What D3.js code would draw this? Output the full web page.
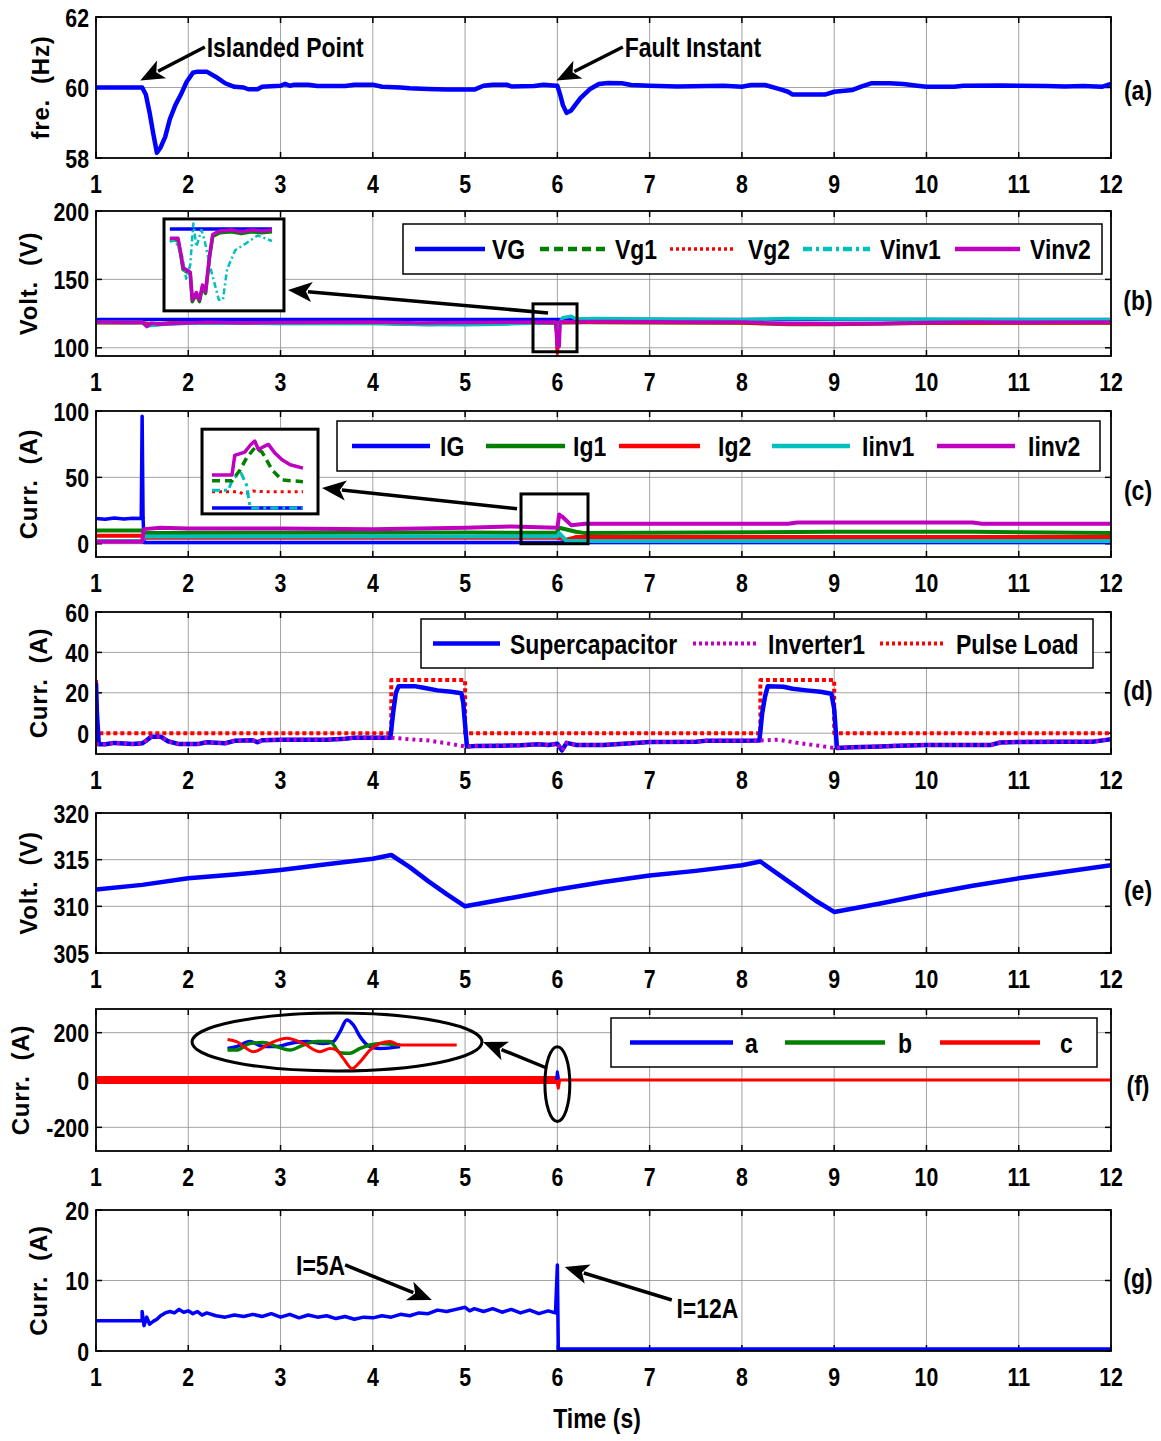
<!DOCTYPE html>
<html>
<head>
<meta charset="utf-8">
<script src="https://cdnjs.cloudflare.com/ajax/libs/d3/7.8.5/d3.min.js"></script>
<style>
body{margin:0;padding:0;background:#fff;}
svg text{font-family:"Liberation Sans",Arial,sans-serif;font-weight:bold;fill:#000;}
svg text.ylab{white-space:pre;letter-spacing:0.8px;}
</style>
</head>
<body>
<div id="chart"></div>
<script>
// ---- data ----
var xTicks = [1,2,3,4,5,6,7,8,9,10,11,12];
var panelTags = ["(a)","(b)","(c)","(d)","(e)","(f)","(g)"];
var yTitles = ["fre.  (Hz)","Volt.  (V)","Curr.  (A)","Curr.  (A)","Volt.  (V)","Curr.  (A)","Curr.  (A)"];
var yTicksA = [58,60,62], yTicksB = [100,150,200], yTicksC = [0,50,100], yTicksD = [0,20,40,60],
    yTicksE = [305,310,315,320], yTicksF = [-200,0,200], yTicksG = [0,10,20];

// (a) frequency
var freq = [[1,60],[1.5,60],[1.54,59.8],[1.58,59.3],[1.62,58.7],[1.66,58.15],[1.7,58.3],[1.75,58.6],[1.8,59.1],[1.86,59.5],[1.92,59.8],[1.98,60.15],[2.05,60.42],[2.1,60.45],[2.2,60.45],[2.3,60.3],[2.4,60.12],[2.5,60.02],[2.6,60.0],[2.65,59.95],[2.75,59.95],[2.8,60.02],[3.0,60.05],[3.05,60.1],[3.1,60.05],[3.15,60.08],[3.3,60.08],[3.4,60.04],[3.7,60.04],[3.8,60.08],[4.0,60.08],[4.1,60.02],[4.3,60.0],[4.4,59.98],[4.6,59.96],[4.8,59.94],[5.1,59.94],[5.2,60.05],[5.3,60.08],[5.45,60.08],[5.5,60.03],[5.75,60.04],[5.85,60.08],[5.95,60.06],[6.0,60.05],[6.03,59.8],[6.06,59.5],[6.1,59.28],[6.15,59.35],[6.25,59.7],[6.35,59.95],[6.45,60.1],[6.55,60.13],[6.7,60.12],[6.8,60.07],[7.0,60.05],[7.3,60.03],[7.8,60.05],[8.0,60.02],[8.1,60.07],[8.25,60.07],[8.4,59.96],[8.5,59.88],[8.55,59.8],[8.9,59.8],[9.0,59.88],[9.2,59.93],[9.3,60.03],[9.4,60.12],[9.6,60.12],[9.75,60.1],[9.9,60.05],[10.0,60.02],[10.3,60.02],[10.4,60.05],[10.8,60.06],[11.0,60.05],[11.3,60.04],[11.5,60.03],[11.7,60.04],[11.9,60.02],[12,60.1]];

// (b) voltages
var namesB = ["VG","Vg1","Vg2","Vinv1","Vinv2"];
var vG = [[1,120.6],[12,120.6]];
var vg1 = [[1,118.3],[1.5,118.3],[1.6,116.5],[1.8,118],[2.5,118],[3,117.8],[4,118],[4.6,117],[5,117.5],[5.5,118],[5.99,118.2],[6.0,99],[6.02,118.3],[6.3,118.5],[8,118.2],[8.5,117],[9,117],[9.5,117.5],[10,118],[12,118.2]];
var vg2 = [[1,118.4],[1.5,118.4],[1.6,117],[1.8,118.2],[2.5,118.1],[3,118],[4,118.2],[4.6,117.4],[5,117.6],[5.5,118],[5.99,118.3],[6.0,96],[6.02,118.4],[6.3,118.6],[8,118.3],[8.5,117.2],[9,117.2],[9.5,117.6],[10,118.1],[12,118.3]];
var vinv1 = [[1,118.6],[1.5,118.6],[1.55,116],[1.7,117],[2,118],[3,118],[4,118],[4.5,117],[5,116.8],[5.5,117.5],[5.98,118.5],[6.01,104],[6.03,119],[6.06,122],[6.15,123],[6.2,121],[6.4,121.5],[7,121],[8,120.5],[8.5,121.5],[9,121],[10,120.8],[11,120.5],[12,120.5]];
var vinv2 = [[1,118.8],[1.4,118.5],[1.5,118.8],[1.55,115.5],[1.6,118],[1.7,117.2],[1.9,118],[2.2,118.6],[2.6,118.2],[3,118.4],[3.5,118.6],[4,118.8],[4.5,118.2],[5,118.4],[5.5,118.6],[5.98,118.8],[6.0,101],[6.02,101],[6.03,119],[6.5,119.2],[7,119],[7.5,118.8],[8,118.8],[8.5,117.8],[9,117.5],[9.5,117.8],[10,118.5],[10.5,118.8],[11,118.6],[12,118.8]];
// (b) inset, local units 0..100
var insB_vG = [[0,89],[100,89]];
var insB_vg = [[0,77],[8,77],[11,59],[13,45],[20,40],[22,10],[26,18],[29,10],[32,26],[35,19],[39,59],[42,81],[49,85],[60,86],[70,84],[80,86],[90,85],[100,86]];
var insB_vinv2 = [[0,79],[8,79],[11,61],[13,47],[20,42],[22,12],[26,20],[29,12],[32,28],[35,21],[39,61],[42,83],[49,87],[60,88],[70,86],[80,88],[90,87],[100,88]];
var insB_vinv1 = [[0,75],[5,77],[12,60],[16,35],[20,50],[23,95],[26,70],[31,88],[34,77],[39,50],[48,12],[52,12],[56,45],[64,66],[74,73],[86,82],[100,76]];

// (c) currents
var namesC = ["IG","Ig1","Ig2","Iinv1","Iinv2"];
var iG = [[1,19],[1.1,18.5],[1.2,19.3],[1.3,18.6],[1.4,19.2],[1.49,19],[1.5,96],[1.51,20],[1.52,1],[12,1]];
var ig1 = [[1,10],[1.5,10],[1.52,8],[3,8.3],[5,8.5],[5.99,8.2],[6.02,12],[6.2,9],[6.3,8],[9,9],[10.5,9],[12,8]];
var ig2 = [[1,6],[1.5,6],[1.52,4.5],[6,4.5],[6.1,3],[6.2,5],[12,5]];
var iinv1 = [[1,2],[1.5,2],[1.52,5.5],[6,5.5],[6.02,8],[6.1,2],[12,2]];
var iinv2 = [[1,1.5],[1.5,1.5],[1.52,11],[1.7,12],[2,11.5],[3,11.5],[4,11],[4.5,11.5],[5,12],[5.5,13],[6,12],[6.02,22],[6.06,20],[6.15,14],[6.3,15],[8.5,15],[8.6,16],[10.5,16],[10.6,15],[12,15]];
var insC_iG = [[0,7],[100,7]];
var insC_iinv2 = [[0,46],[22,46],[25,69],[36,73],[42,81],[47,86],[51,76],[56,79],[62,82],[69,72],[77,64],[86,58],[100,54]];
var insC_ig1 = [[0,39],[22,39],[31,52],[38,66],[47,78],[55,73],[66,52],[77,40],[100,38]];
var insC_ig2 = [[0,26],[30,26],[35,23],[45,27],[60,26],[100,26]];
var insC_iinv1 = [[0,28],[18,28],[23,42],[32,48],[38,34],[42,7],[100,7]];

// (d) supercapacitor / inverter / pulse load currents
var namesD = ["Supercapacitor","Inverter1","Pulse Load"];
var iSc = [[1,25],[1.01,10],[1.03,-5.5],[1.1,-5.5],[1.2,-4.8],[1.4,-5.4],[1.5,-5],[1.55,-3.5],[1.6,-1.7],[1.7,-1.7],[1.78,-4],[1.9,-5.4],[2.1,-5.4],[2.2,-4.5],[2.4,-5],[2.5,-3.8],[2.7,-3.5],[2.75,-4.5],[2.8,-3.5],[3.0,-3.3],[3.5,-3.3],[3.7,-2.8],[3.8,-2.2],[4.0,-2.2],[4.19,-2.2],[4.22,10],[4.25,20],[4.28,23.3],[4.45,23.3],[4.55,22.5],[4.7,21.2],[4.85,20.5],[4.96,19.8],[4.98,15],[5.02,-6.6],[5.1,-6.4],[5.4,-6.2],[5.6,-6],[5.8,-5.5],[5.9,-5.8],[6.0,-5.2],[6.05,-8.5],[6.1,-4.8],[6.2,-5.8],[6.5,-5.8],[6.8,-5],[7.0,-4.4],[7.5,-4.2],[7.6,-3.8],[8.0,-3.8],[8.19,-3.6],[8.22,10],[8.25,18],[8.28,23.3],[8.45,23],[8.55,22],[8.7,21.2],[8.85,20.5],[8.97,19.5],[9.0,12],[9.03,-7.3],[9.2,-7],[9.5,-6.6],[9.7,-6.2],[10,-5.8],[10.3,-5.8],[10.7,-5.8],[10.8,-4.6],[11,-4.3],[11.5,-4.2],[11.8,-4.2],[11.95,-3.3],[12,-3]];
var iInv1 = [[1,-5.5],[1.1,-5.5],[1.2,-4.8],[1.4,-5.4],[1.5,-5],[1.55,-3.5],[1.6,-1.7],[1.7,-1.7],[1.78,-4],[1.9,-5.4],[2.1,-5.4],[2.2,-4.5],[2.4,-5],[2.5,-3.8],[2.7,-3.5],[2.75,-4.5],[2.8,-3.5],[3.0,-3.3],[3.5,-3.3],[3.7,-2.8],[3.8,-2.2],[4.0,-2.2],[4.2,-2.2],[4.4,-3],[4.6,-3.6],[4.8,-5],[5.0,-6.6],[5.1,-6.4],[5.4,-6.2],[5.6,-6],[5.8,-5.5],[5.9,-5.8],[6.0,-5.2],[6.05,-8.5],[6.1,-4.8],[6.2,-5.8],[6.5,-5.8],[6.8,-5],[7.0,-4.4],[7.5,-4.2],[7.6,-3.8],[8.0,-3.8],[8.2,-3.6],[8.4,-3.2],[8.6,-4.8],[8.8,-6],[9.0,-7.3],[9.2,-7],[9.5,-6.6],[9.7,-6.2],[10,-5.8],[10.7,-5.8],[10.8,-4.6],[11,-4.3],[11.8,-4.2],[12,-3]];
var iPulse = [[1,26.3],[1.005,0],[4.2,0],[4.2,26.3],[5.0,26.3],[5.0,0],[8.2,0],[8.2,26.3],[9.0,26.3],[9.0,0],[12,0]];

// (e) supercapacitor voltage
var vSc = [[1,311.8],[1.5,312.3],[2,313.0],[2.5,313.4],[3,313.9],[3.5,314.5],[4,315.1],[4.2,315.5],[4.4,314.2],[4.6,312.7],[4.8,311.3],[5.0,310.0],[5.5,310.9],[6,311.8],[6.5,312.6],[7,313.3],[7.5,313.8],[8,314.4],[8.2,314.8],[8.4,313.4],[8.6,312.0],[8.8,310.6],[9.0,309.4],[9.5,310.3],[10,311.3],[10.5,312.2],[11,313.0],[11.5,313.7],[12,314.4]];

// (f) three-phase currents
var namesF = ["a","b","c"];
var fBand = [[1,17],[5.99,17]];
var fA = [[5.99,0],[6.0,35],[6.015,0]];
var fC = [[5.995,0],[6.01,-35],[6.025,0],[12,0]];
var insF_a = [[0.4,-0.13],[4.3,-0.06],[10.1,0.13],[15.9,-0.06],[21.7,-0.06],[27.5,0.06],[34.8,0.13],[42,0.06],[46.4,0.13],[49.3,0.5],[52.2,0.94],[55.1,0.75],[58,0.31],[62.3,-0.06],[66.7,-0.13],[75.4,-0.06]];
var insF_b = [[0.4,-0.19],[4.3,-0.19],[10.1,0.06],[15.9,0.09],[21.7,-0.06],[27.5,-0.19],[33.3,0],[39.1,0.13],[44.9,0.13],[49.3,-0.29],[53.6,-0.31],[58,-0.13],[62.3,0],[66.7,0.06],[75.4,0]];
var insF_c = [[0.4,0.21],[4.3,0.13],[11.6,-0.25],[18.8,0.06],[26.1,0.25],[33.3,0.06],[40.6,-0.25],[44.9,-0.13],[47.8,-0.19],[50.7,-0.5],[54.6,-0.88],[58,-0.63],[62.3,-0.19],[66.7,0.06],[71,0.13],[75.4,0],[100,0]];

// (g) fault current
var iFault = [[1,4.3],[1.5,4.3],[1.5,5.6],[1.52,3.6],[1.55,4.8],[1.58,3.8],[1.62,4.2],[1.66,4.5],[1.7,5.0],[1.75,5.4],[1.8,5.6],[1.85,5.4],[1.9,5.9],[1.95,5.5],[2.0,5.7],[2.05,5.3],[2.1,5.6],[2.15,5.1],[2.2,5.4],[2.3,5.0],[2.4,4.8],[2.5,5.1],[2.6,4.9],[2.7,5.2],[2.8,4.9],[2.9,5.3],[3.0,4.8],[3.1,5.2],[3.2,4.7],[3.3,5.1],[3.4,4.8],[3.5,5.0],[3.6,4.6],[3.7,4.9],[3.8,4.5],[3.9,4.8],[4.0,4.7],[4.1,5.0],[4.2,4.8],[4.3,5.2],[4.4,5.0],[4.5,5.4],[4.6,5.3],[4.7,5.8],[4.8,5.6],[4.9,5.9],[5.0,6.2],[5.05,5.7],[5.1,6.0],[5.2,5.6],[5.3,6.0],[5.4,5.5],[5.5,5.9],[5.6,5.4],[5.7,5.8],[5.8,5.3],[5.9,5.7],[5.98,5.4],[6.0,12.2],[6.01,0.3],[12,0.3]];

// ---- layout ----
var W = 1161, H = 1441, X0 = 96, X1 = 1111, NARROW = 0.82;
var panels = [
  {top:17,  bot:158,  dom:[58,62],    ticks:yTicksA, labX:40, tagY:90},
  {top:211, bot:356,  dom:[94,200],   ticks:yTicksB, labX:28, tagY:300},
  {top:411, bot:557,  dom:[-10,100],  ticks:yTicksC, labX:28, tagY:490},
  {top:612, bot:754,  dom:[-10.3,60], ticks:yTicksD, labX:38, tagY:690},
  {top:813, bot:953,  dom:[305,320],  ticks:yTicksE, labX:28, tagY:890},
  {top:1009,bot:1151, dom:[-300,300], ticks:yTicksF, labX:20, tagY:1085},
  {top:1210,bot:1351, dom:[0,20],     ticks:yTicksG, labX:38, tagY:1278}
];
var BLUE="#0000ff", GREEN="#008000", RED="#ff0000", CYAN="#00bfbf", MAG="#bf00bf";

var svg = d3.select("#chart").append("svg").attr("width",W).attr("height",H);
var x = d3.scaleLinear().domain([1,12]).range([X0,X1]);

// bold narrow text, emulated by squeezing Liberation Sans Bold
function ntext(g, tx, ty, s, size, anchor){
    return g.append("text").attr("transform","translate("+tx+","+ty+") scale("+NARROW+",1)")
        .attr("text-anchor",anchor || "start").attr("font-size",size).text(s);
}

function arrow(g, x1, y1, x2, y2){
    var dx = x2-x1, dy = y2-y1, L = Math.sqrt(dx*dx+dy*dy), ux = dx/L, uy = dy/L, hl = 24, hw = 10;
    var bx = x2-ux*hl, by = y2-uy*hl;
    g.append("line").attr("x1",x1).attr("y1",y1).attr("x2",bx+ux*4).attr("y2",by+uy*4)
        .attr("stroke","#000").attr("stroke-width",3.5);
    g.append("path").attr("d","M"+x2+","+y2+"L"+(bx-uy*hw)+","+(by+ux*hw)+"L"+(bx+ux*6)+","+(by+uy*6)+"L"+(bx+uy*hw)+","+(by-ux*hw)+"Z")
        .attr("fill","#000");
}

function series(g, sx, sy, data, color, w, dash, curve){
    var line = d3.line().x(function(d){return sx(d[0]);}).y(function(d){return sy(d[1]);}).curve(curve || d3.curveLinear);
    g.append("path").datum(data).attr("d",line).attr("fill","none").attr("stroke",color)
        .attr("stroke-width",w).attr("stroke-dasharray",dash || null).attr("stroke-linejoin","round");
}

function legend(g, box, items){
    g.append("rect").attr("x",box[0]).attr("y",box[1]).attr("width",box[2]-box[0]).attr("height",box[3]-box[1])
        .attr("fill","#fff").attr("stroke","#000").attr("stroke-width",1.5);
    var cy = (box[1]+box[3])/2;
    items.forEach(function(it){
        g.append("line").attr("x1",it.x1).attr("x2",it.x2).attr("y1",cy).attr("y2",cy)
            .attr("stroke",it.color).attr("stroke-width",it.w || 4.5).attr("stroke-dasharray",it.dash || null);
        ntext(g, it.tx, cy+10, it.label, 28);
    });
}

var ys = panels.map(function(p, i){
    var y = d3.scaleLinear().domain(p.dom).range([p.bot,p.top]);
    var g = svg.append("g");
    // grid
    g.selectAll(".vg").data(xTicks.slice(1,-1)).enter().append("line")
        .attr("x1",x).attr("x2",x).attr("y1",p.top).attr("y2",p.bot)
        .attr("stroke","#8c8c8c").attr("stroke-width",0.8);
    g.selectAll(".hg").data(p.ticks.filter(function(t){return y(t) > p.top+1 && y(t) < p.bot-1;})).enter().append("line")
        .attr("x1",X0).attr("x2",X1).attr("y1",y).attr("y2",y)
        .attr("stroke","#8c8c8c").attr("stroke-width",0.8);
    // tick marks
    xTicks.forEach(function(t){
        g.append("line").attr("x1",x(t)).attr("x2",x(t)).attr("y1",p.bot).attr("y2",p.bot-6).attr("stroke","#000").attr("stroke-width",1.5);
        g.append("line").attr("x1",x(t)).attr("x2",x(t)).attr("y1",p.top).attr("y2",p.top+6).attr("stroke","#000").attr("stroke-width",1.5);
    });
    p.ticks.forEach(function(t){
        g.append("line").attr("x1",X0).attr("x2",X0+6).attr("y1",y(t)).attr("y2",y(t)).attr("stroke","#000").attr("stroke-width",1.5);
        g.append("line").attr("x1",X1).attr("x2",X1-6).attr("y1",y(t)).attr("y2",y(t)).attr("stroke","#000").attr("stroke-width",1.5);
    });
    // tick labels
    g.selectAll(".xl").data(xTicks).enter().append("text")
        .attr("transform",function(d){return "translate("+x(d)+","+(p.bot+35)+") scale("+NARROW+",1)";})
        .attr("text-anchor","middle").attr("font-size",26)
        .text(function(d){return d;});
    g.selectAll(".yl").data(p.ticks).enter().append("text")
        .attr("transform",function(d){return "translate("+(X0-7)+","+(y(d)+9.5)+") scale("+NARROW+",1)";})
        .attr("text-anchor","end").attr("font-size",26)
        .text(function(d){return d;});
    g.append("text").attr("class","ylab").attr("transform","translate("+p.labX+","+((p.top+p.bot)/2)+") rotate(-90)")
        .attr("text-anchor","middle").attr("dy","0.36em").attr("font-size",24).text(yTitles[i]);
    ntext(g, 1138, p.tagY+10, panelTags[i], 28, "middle");
    return y;
});

// clip per panel
panels.forEach(function(p, i){
    svg.append("clipPath").attr("id","clip"+i).append("rect").attr("x",X0).attr("y",p.top).attr("width",X1-X0).attr("height",p.bot-p.top);
    p.c = svg.append("g").attr("clip-path","url(#clip"+i+")");
    p.o = svg.append("g");
});

// (a)
series(panels[0].c, x, ys[0], freq, BLUE, 4.5);
arrow(panels[0].o, x(2.18), ys[0](61.15), x(1.48), ys[0](60.2));
arrow(panels[0].o, x(6.71), ys[0](61.15), x(5.99), ys[0](60.2));
ntext(panels[0].o, x(2.2), ys[0](61.15)+10, "Islanded Point", 28);
ntext(panels[0].o, x(6.73), ys[0](61.15)+10, "Fault Instant", 28);

// (b)
(function(){
    var p = panels[1], y = ys[1];
    series(p.c, x, y, vG, BLUE, 3.5);
    series(p.c, x, y, vg1, GREEN, 3.5);
    series(p.c, x, y, vg2, RED, 3.5);
    series(p.c, x, y, vinv1, CYAN, 3.5);
    series(p.c, x, y, vinv2, MAG, 3.5);
    var o = p.o;
    o.append("rect").attr("x",x(5.736)).attr("y",y(132.1)).attr("width",x(6.213)-x(5.736)).attr("height",y(97.1)-y(132.1))
        .attr("fill","none").attr("stroke","#000").attr("stroke-width",3);
    arrow(o, x(5.899), y(125.5), x(3.081), y(142.3));
    o.append("rect").attr("x",x(1.737)).attr("y",y(194.2)).attr("width",x(3.037)-x(1.737)).attr("height",y(127)-y(194.2))
        .attr("fill","#fff").attr("stroke","#000").attr("stroke-width",3);
    var ix = d3.scaleLinear().domain([0,100]).range([x(1.80),x(2.907)]);
    var iy = d3.scaleLinear().domain([0,100]).range([y(127),y(194.2)]);
    series(o, ix, iy, insB_vG, BLUE, 3.5);
    series(o, ix, iy, insB_vg, GREEN, 3.5);
    series(o, ix, iy, insB_vinv1, CYAN, 2.5, "6,3,2,3");
    series(o, ix, iy, insB_vinv2, MAG, 3.5);
    legend(o, [403,224,1102,274], [
        {x1:415,x2:485,tx:492,label:namesB[0],color:BLUE},
        {x1:540,x2:605,tx:615,label:namesB[1],color:GREEN,dash:"9,5"},
        {x1:670,x2:735,tx:748,label:namesB[2],color:RED,dash:"3,3",w:3.5},
        {x1:803,x2:870,tx:880,label:namesB[3],color:CYAN,dash:"9,4,3,4"},
        {x1:955,x2:1020,tx:1030,label:namesB[4],color:MAG}
    ]);
})();

// (c)
(function(){
    var p = panels[2], y = ys[2];
    series(p.c, x, y, iG, BLUE, 3.5);
    series(p.c, x, y, ig1, GREEN, 4);
    series(p.c, x, y, ig2, RED, 4);
    series(p.c, x, y, iinv1, CYAN, 4);
    series(p.c, x, y, iinv2, MAG, 4);
    var o = p.o;
    o.append("rect").attr("x",x(5.606)).attr("y",y(37.5)).attr("width",x(6.332)-x(5.606)).attr("height",y(0)-y(37.5))
        .attr("fill","none").attr("stroke","#000").attr("stroke-width",3);
    arrow(o, x(5.563), y(26.3), x(3.449), y(42));
    o.append("rect").attr("x",x(2.149)).attr("y",y(86.3)).attr("width",x(3.406)-x(2.149)).attr("height",y(22.5)-y(86.3))
        .attr("fill","#fff").attr("stroke","#000").attr("stroke-width",3);
    var ix = d3.scaleLinear().domain([0,100]).range([x(2.257),x(3.243)]);
    var iy = d3.scaleLinear().domain([0,100]).range([y(22.5),y(86.3)]);
    series(o, ix, iy, insC_iG, BLUE, 3.5);
    series(o, ix, iy, insC_ig2, RED, 3, "3,4");
    series(o, ix, iy, insC_iinv1, CYAN, 3, "8,4,3,4");
    series(o, ix, iy, insC_ig1, GREEN, 3.5, "8,5");
    series(o, ix, iy, insC_iinv2, MAG, 3.5);
    legend(o, [337,421,1100,471], [
        {x1:352,x2:430,tx:440,label:namesC[0],color:BLUE},
        {x1:486,x2:565,tx:573,label:namesC[1],color:GREEN},
        {x1:619,x2:700,tx:718,label:namesC[2],color:RED},
        {x1:772,x2:850,tx:862,label:namesC[3],color:CYAN},
        {x1:937,x2:1015,tx:1028,label:namesC[4],color:MAG}
    ]);
})();

// (d)
(function(){
    var p = panels[3], y = ys[3];
    series(p.c, x, y, iPulse, RED, 4, "4,3");
    series(p.c, x, y, iSc, BLUE, 4.5);
    series(p.c, x, y, iInv1, MAG, 4, "3,4");
    legend(p.o, [421,619,1093,668], [
        {x1:433,x2:500,tx:510,label:namesD[0],color:BLUE},
        {x1:693,x2:757,tx:768,label:namesD[1],color:MAG,dash:"3,3",w:4},
        {x1:880,x2:943,tx:956,label:namesD[2],color:RED,dash:"3,3",w:4}
    ]);
})();

// (e)
series(panels[4].c, x, ys[4], vSc, BLUE, 4.5);

// (f)
(function(){
    var p = panels[5], y = ys[5];
    var band = d3.area().x(function(d){return x(d[0]);}).y0(function(d){return y(-d[1]);}).y1(function(d){return y(d[1]);});
    p.c.append("path").datum(fBand).attr("d",band).attr("fill",RED);
    series(p.c, x, y, fA, BLUE, 3);
    series(p.c, x, y, fC, RED, 3);
    var o = p.o;
    o.append("ellipse").attr("cx",x(3.612)).attr("cy",y(160.5)).attr("rx",x(3.612+1.571)-x(3.612)).attr("ry",y(0)-y(122.5))
        .attr("fill","none").attr("stroke","#000").attr("stroke-width",3);
    o.append("ellipse").attr("cx",x(6.0)).attr("cy",y(-17)).attr("rx",x(6.135)-x(6.0)).attr("ry",y(0)-y(158))
        .attr("fill","none").attr("stroke","#000").attr("stroke-width",3);
    arrow(o, x(5.884), y(50.7), x(5.194), y(160.5));
    var ix = d3.scaleLinear().domain([0,100]).range([x(2.416),x(4.909)]);
    var iy = d3.scaleLinear().domain([-1,1]).range([y(35),y(260.7)]);
    series(o, ix, iy, insF_a, BLUE, 3.5, null, d3.curveMonotoneX);
    series(o, ix, iy, insF_b, GREEN, 3.5, null, d3.curveMonotoneX);
    series(o, ix, iy, insF_c, RED, 3, null, d3.curveMonotoneX);
    legend(o, [611,1018,1097,1067], [
        {x1:630,x2:733,tx:745,label:namesF[0],color:BLUE},
        {x1:785,x2:885,tx:898,label:namesF[1],color:GREEN},
        {x1:940,x2:1040,tx:1060,label:namesF[2],color:RED}
    ]);
})();

// (g)
(function(){
    var p = panels[6], y = ys[6];
    series(p.c, x, y, iFault, BLUE, 3.5);
    arrow(p.o, x(3.70), y(12.2), x(4.64), y(7.23));
    arrow(p.o, x(7.24), y(7.23), x(6.08), y(11.9));
    ntext(p.o, x(3.70), y(12.2)+10, "I=5A", 28, "end");
    ntext(p.o, x(7.29), y(6.1)+10, "I=12A", 28);
})();

// frames on top
panels.forEach(function(p){
    svg.append("rect").attr("x",X0).attr("y",p.top).attr("width",X1-X0).attr("height",p.bot-p.top)
        .attr("fill","none").attr("stroke","#000").attr("stroke-width",1.8);
});
ntext(svg, 597, 1428, "Time (s)", 28, "middle");
</script>
</body>
</html>
